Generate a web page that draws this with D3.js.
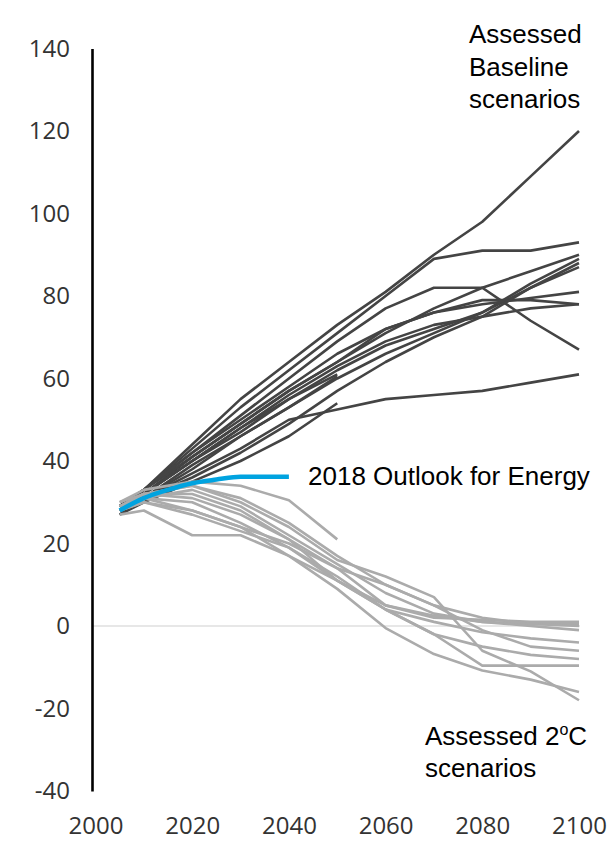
<!DOCTYPE html>
<html>
<head>
<meta charset="utf-8">
<script src="https://cdn.jsdelivr.net/npm/d3@7"></script>
<style>
  html, body { margin: 0; padding: 0; background: #fff; }
  svg { display: block; }
</style>
</head>
<body>
<svg id="chart" width="612" height="861"></svg>
<script>
// ---- data ----
const years = [2005, 2010, 2020, 2030, 2040, 2050, 2060, 2070, 2080, 2090, 2100];
const yTicks = [140, 120, 100, 80, 60, 40, 20, 0, -20, -40];
const xTicks = [2000, 2020, 2040, 2060, 2080, 2100];

// Assessed Baseline scenarios (dark)
const baseline = [
  [29, 33, 44, 55, 64, 73, 81, 90, 98, 109, 120],
  [29, 33, 43, 53, 62, 71, 80, 89, 91, 91, 93],
  [29, 32, 41, 49, 57, 64, 71, 77, 82, 86, 90],
  [28, 32, 40, 47, 55, 62, 68, 72, 76, 83, 89],
  [28, 31, 39, 46, 53, 60, 66, 71, 76, 82, 87],
  [29, 33, 42, 50, 58, 66, 72, 76, 78, 79.5, 81],
  [29, 33, 41, 49, 57, 64, 72, 76, 79, 79, 78],
  [28, 32, 40, 48, 56, 63, 69, 73, 75, 77, 78],
  [29, 33, 42, 51, 60, 69, 77, 82, 82, 74, 67],
  [27, 31, 37, 43, 50, 52.5, 55, 56, 57, 59, 61],
  [29, 32, 40, 48, 55, 61],
  [28, 31, 38, 46, 53, 60.5],
  [27, 30, 35, 40, 46, 54],
  [28, 31, 36, 42, 49, 57, 64, 70, 75, 82, 88]
];

// Assessed 2°C scenarios (grey)
const twoDegree = [
  [27, 28, 22, 22, 17, 11, 5, 2, 1.5, 1, 1],
  [30, 33, 35, 34, 30.5, 21],
  [29, 32, 34, 30, 24, 16, 12, 7, -6, -11, -18],
  [28, 30, 28, 24, 17, 9, -0.5, -6.8, -10.8, -13, -16],
  [29, 31, 33, 29, 22, 15, 8, 3, 1, 0.5, 0.5],
  [29, 32, 31, 27, 21, 14, 5, 2.5, 1, 0, -1],
  [28, 31, 30, 25, 19, 11, 4, 1, -1.5, -3, -4],
  [29, 31, 28, 24, 20, 14, 10, 5, -1, -5, -6],
  [28, 30, 27, 23, 19, 12, 4, -2, -5, -7, -8],
  [29, 32, 32, 28, 21, 11, 4, -2, -9.6, -9.6, -9.6],
  [30, 32, 34, 31, 25, 17, 10, 5, 2, 0.5, 0]
];

// 2018 Outlook for Energy
const outlookYears = [2005, 2010, 2015, 2020, 2025, 2030, 2035, 2040];
const outlook = [28, 31, 33, 34.6, 35.5, 36.2, 36.2, 36.2];

// ---- chart ----
const svg = d3.select("#chart");
const x = d3.scaleLinear().domain([2000, 2100]).range([95.5, 579]);
const y = d3.scaleLinear().domain([-40, 140]).range([791, 48.5]);
const axisX = 92;

// zero line
svg.append("line")
  .attr("x1", axisX).attr("x2", x(2100) + 1)
  .attr("y1", y(0)).attr("y2", y(0))
  .attr("stroke", "#cfcfcf").attr("stroke-width", 1);

const line = d3.line()
  .x((d, i) => x(years[i]))
  .y(d => y(d));

svg.append("g").selectAll("path").data(baseline).join("path")
  .attr("d", line)
  .attr("fill", "none")
  .attr("stroke", "#444444")
  .attr("stroke-width", 2.6)
  .attr("stroke-linejoin", "round");

svg.append("g").selectAll("path").data(twoDegree).join("path")
  .attr("d", line)
  .attr("fill", "none")
  .attr("stroke", "#ababab")
  .attr("stroke-width", 2.6)
  .attr("stroke-linejoin", "round");

const outlookLine = d3.line()
  .x((d, i) => x(outlookYears[i]))
  .y(d => y(d))
  .curve(d3.curveMonotoneX);

svg.append("path")
  .datum(outlook)
  .attr("d", outlookLine)
  .attr("fill", "none")
  .attr("stroke", "#00a3e0")
  .attr("stroke-width", 4.5);

const tickFont = "'Open Sans', sans-serif";

// y axis
const yAxis = svg.append("g")
  .attr("transform", `translate(${axisX},0)`)
  .call(d3.axisLeft(y).tickValues(yTicks).tickFormat(d => String(d))
    .tickSize(0).tickSizeOuter(0).tickPadding(22));
yAxis.select(".domain").attr("stroke", "#000").attr("stroke-width", 2.6);
yAxis.selectAll("text")
  .attr("font-family", tickFont)
  .attr("font-weight", 400)
  .attr("font-size", 24)
  .attr("fill", "#333");

// x axis (labels only)
const xAxis = svg.append("g")
  .attr("transform", `translate(0,${y(-40)})`)
  .call(d3.axisBottom(x).tickValues(xTicks).tickFormat(d => String(d)).tickSize(0).tickPadding(26));
xAxis.select(".domain").remove();
xAxis.selectAll("text")
  .attr("font-family", tickFont)
  .attr("font-weight", 400)
  .attr("font-size", 24)
  .attr("fill", "#333");

// annotations
const ann = svg.append("g")
  .attr("font-family", "'Liberation Sans', Arial, sans-serif")
  .attr("font-size", 26)
  .attr("fill", "#000");

const t1 = ann.append("text").attr("x", 469).attr("y", 43);
t1.append("tspan").attr("x", 469).attr("y", 43).text("Assessed");
t1.append("tspan").attr("x", 469).attr("y", 76).text("Baseline");
t1.append("tspan").attr("x", 469).attr("y", 108).text("scenarios");

ann.append("text").attr("x", 308).attr("y", 485).text("2018 Outlook for Energy");

const t3 = ann.append("text").attr("x", 425).attr("y", 745);
t3.append("tspan").text("Assessed 2");
t3.append("tspan").attr("font-size", 16).attr("dy", -10).text("o");
t3.append("tspan").attr("dy", 10).text("C");
ann.append("text").attr("x", 425).attr("y", 777).text("scenarios");
</script>
</body>
</html>
